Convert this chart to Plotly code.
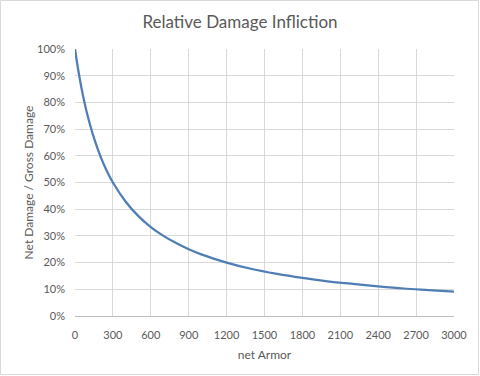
import plotly.graph_objects as go

# Data (net armor vs. relative damage)
armor = [0, 25, 50, 75, 100, 150, 200, 250, 300, 400, 500, 600, 700, 800, 900,
         1000, 1200, 1400, 1600, 1800, 2000, 2200, 2400, 2600, 2800, 3000]
damage = [1.000, 0.923, 0.857, 0.800, 0.750, 0.667, 0.600, 0.545, 0.500, 0.429,
          0.375, 0.333, 0.300, 0.273, 0.250, 0.231, 0.200, 0.176, 0.158, 0.143,
          0.130, 0.120, 0.111, 0.103, 0.097, 0.091]
x_ticks = [0, 300, 600, 900, 1200, 1500, 1800, 2100, 2400, 2700, 3000]
y_ticks = [0, 0.1, 0.2, 0.3, 0.4, 0.5, 0.6, 0.7, 0.8, 0.9, 1.0]

W, H = 480, 376
L, R, T, B = 75, 26, 49, 60
pw, ph = W - L - R, H - T - B

fig = go.Figure()
fig.add_trace(go.Scatter(x=armor, y=damage, mode="lines",
                         line=dict(color="#4F7DB5", width=2.25, shape="spline"),
                         showlegend=False, hoverinfo="skip"))

fig.update_layout(
    width=W, height=H,
    margin=dict(l=L, r=R, t=T, b=B, autoexpand=False),
    paper_bgcolor="white", plot_bgcolor="white",
    font=dict(family="Lato, Open Sans, sans-serif", color="#595959", size=11),
    title=dict(text="Relative Damage Infliction", x=0.5, xanchor="center",
               y=1 - 22 / H, yanchor="middle",
               font=dict(size=17, color="#595959")),
    xaxis=dict(range=[0, 3000], tickvals=x_ticks, ticktext=[str(v) for v in x_ticks],
               showgrid=True, gridcolor="#D9D9D9", gridwidth=1,
               showline=True, linecolor="#BFBFBF", linewidth=1,
               zeroline=False, ticks="", ticklen=0, ticklabelstandoff=9,
               title=dict(text="net Armor", font=dict(size=12, color="#595959"), standoff=10),
               tickfont=dict(size=11, color="#595959")),
    yaxis=dict(range=[0, 1.0], tickvals=y_ticks, tickformat=".0%",
               showgrid=True, gridcolor="#D9D9D9", gridwidth=1,
               showline=False, zeroline=False, ticks="", ticklabelstandoff=9,
               title=dict(text="Net Damage / Gross Damage", font=dict(size=12, color="#595959"), standoff=0),
               tickfont=dict(size=11, color="#595959")),
)

# light border around the chart area
fig.add_shape(type="rect", xref="paper", yref="paper",
              x0=(-L + 0.5) / pw, x1=(pw + R - 1.5) / pw,
              y0=(-B + 1.5) / ph, y1=(ph + T - 0.5) / ph,
              line=dict(color="#D9D9D9", width=1), layer="below")

fig.write_html("out.html", config={"displayModeBar": False},
               post_script="document.body.style.margin='0px';")
